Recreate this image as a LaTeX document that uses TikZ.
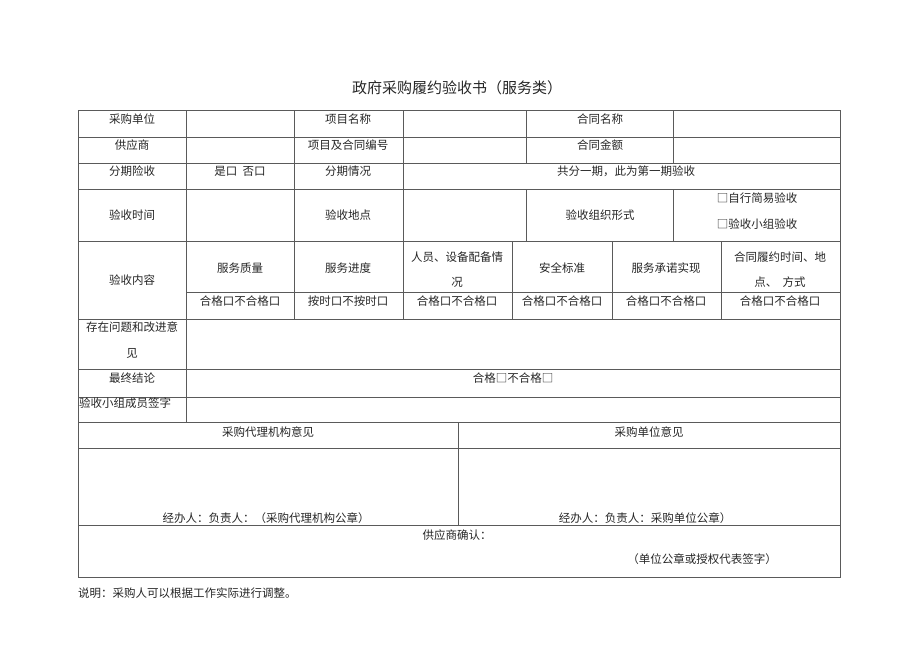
\documentclass[tikz,border=0pt]{standalone}
\usepackage{fontspec}
\setmainfont{Noto Sans CJK SC}
\definecolor{rulegray}{HTML}{5A5A5A}

\begin{document}
\begin{tikzpicture}[x=1pt,y=-1pt,
	cell/.style={inner sep=0pt,text=black!85,font=\fontsize{11.5}{13}\selectfont},
	grid/.style={draw=rulegray,line width=0.8pt}]
\useasboundingbox (0,0) rectangle (920,651);
% title
\node[cell,font=\fontsize{15}{17}\selectfont] (title) at (457,88) {政府采购履约验收书（服务类）};
% table lines
\draw[grid] (78,110) rectangle (840,577);
\foreach \y in {137,163,189,241,319,369,397,422,448,525}
	\draw[grid] (78,\y) -- (840,\y);
\draw[grid] (186,292) -- (840,292);
\draw[grid] (186,110) -- (186,422);
\draw[grid] (294,110) -- (294,319);
\draw[grid] (403,110) -- (403,319);
\draw[grid] (526,110) -- (526,163) (526,189) -- (526,241);
\draw[grid] (673,110) -- (673,163) (673,189) -- (673,241);
\foreach \x in {512,612,721}
	\draw[grid] (\x,241) -- (\x,319);
\draw[grid] (458,422) -- (458,525);
% rows 1-3
\node[cell] (buyer) at (132,119) {采购单位};
\node[cell] (projname) at (348,119) {项目名称};
\node[cell] (contname) at (600,119) {合同名称};
\node[cell] (supplier) at (132,145) {供应商};
\node[cell] (projno) at (348,145) {项目及合同编号};
\node[cell] (amount) at (600,145) {合同金额};
\node[cell] (stage) at (132,171) {分期险收};
\node[cell] (yesno) at (240,171) {是口\ \ 否口};
\node[cell] (stageinfo) at (348,171) {分期情况};
\node[cell] (stagetext) at (626,171) {共分一期，此为第一期验收};
% row 4
\node[cell] (chktime) at (132,215) {验收时间};
\node[cell] (chkplace) at (348,215) {验收地点};
\node[cell] (chkform) at (600,215) {验收组织形式};
\node[cell] (self) at (757,198) {□自行简易验收};
\node[cell] (team) at (757,224) {□验收小组验收};
% row 5
\node[cell] (content) at (132,280) {验收内容};
\node[cell] (quality) at (240,268) {服务质量};
\node[cell] (progress) at (348,268) {服务进度};
\node[cell] (staff) at (457,257) {人员、设备配备情};
\node[cell] (staffb) at (457,282) {况};
\node[cell] (safety) at (562,268) {安全标准};
\node[cell] (promise) at (666,268) {服务承诺实现};
\node[cell] (perform) at (780,257) {合同履约时间、地};
\node[cell] (performb) at (780,282) {点、\ \ 方式};
\node[cell] (r1) at (240,301) {合格口不合格口};
\node[cell] (r2) at (348,301) {按时口不按时口};
\node[cell] (r3) at (457,301) {合格口不合格口};
\node[cell] (r4) at (562,301) {合格口不合格口};
\node[cell] (r5) at (666,301) {合格口不合格口};
\node[cell] (r6) at (780,301) {合格口不合格口};
% rows 6-8
\node[cell] (issues) at (132,327) {存在问题和改进意};
\node[cell] (issuesb) at (132,353) {见};
\node[cell] (final) at (132,378) {最终结论};
\node[cell] (finaltext) at (513,378) {合格□不合格□};
\node[cell,anchor=west] (sign) at (79,403) {验收小组成员签字};
% opinions
\node[cell] (agency) at (268,432) {采购代理机构意见};
\node[cell] (unit) at (649,432) {采购单位意见};
\node[cell] (agencysign) at (266,518) {经办人：负责人：（采购代理机构公章）};
\node[cell] (unitsign) at (645,518) {经办人：负责人：采购单位公章）};
\node[cell] (confirm) at (457,535) {供应商确认：};
\node[cell] (seal) at (702,559) {（单位公章或授权代表签字）};
\node[cell,anchor=west] (note) at (78,593) {说明：采购人可以根据工作实际进行调整。};
\end{tikzpicture}
\end{document}
